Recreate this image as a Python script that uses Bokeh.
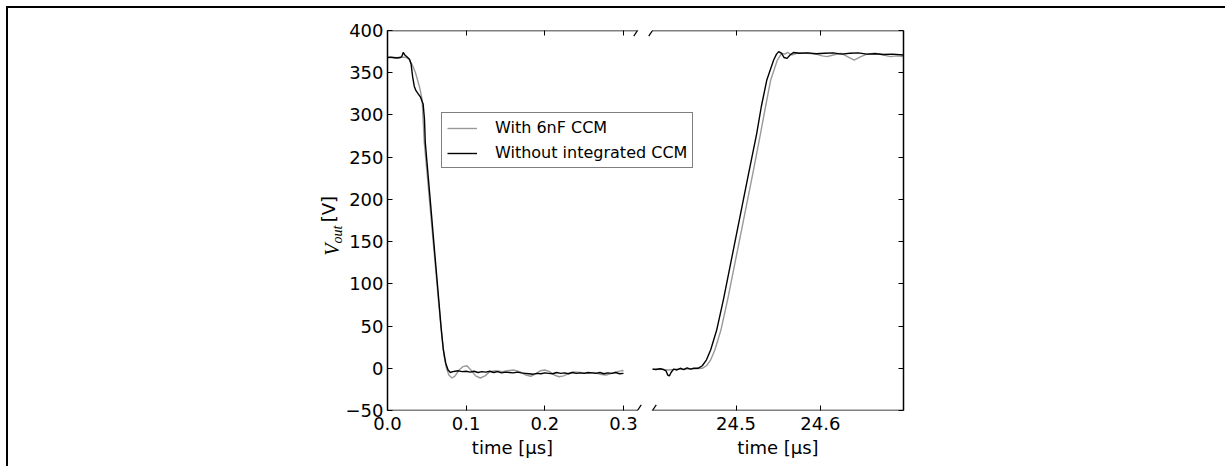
import math
from bokeh.plotting import figure
from bokeh.models import (Range1d, LinearAxis, FixedTicker, Legend, LegendItem, Arrow,
                          CustomJSTickFormatter)
from bokeh.embed import file_html
from bokeh.resources import INLINE

W, H = 1225, 466

# ---------------- data ----------------
series_names = ["With 6nF CCM", "Without integrated CCM"]
series_colors = ["#999999", "#000000"]

y_lim = (-50, 400)
y_ticks = [-50, 0, 50, 100, 150, 200, 250, 300, 350, 400]
left_xlim = (0.0, 0.3178)
right_xlim = (24.401, 24.6985)
left_x_ticks = [0.0, 0.1, 0.2, 0.3]
right_x_ticks = [24.5, 24.6]
x_title = "time [\u03bcs]"

# falling edge, with 6nF CCM (grey)
fall_t_with = [0.000, 0.004, 0.008, 0.012, 0.016, 0.020, 0.024, 0.027, 0.030, 0.033, 0.0356,
               0.038, 0.041, 0.044, 0.0467, 0.050, 0.055, 0.060, 0.065, 0.069, 0.072, 0.075,
               0.078, 0.082, 0.086, 0.091, 0.096, 0.101, 0.106, 0.112, 0.118, 0.124, 0.130,
               0.138, 0.146, 0.152, 0.160, 0.168, 0.176, 0.182, 0.188, 0.194, 0.200, 0.206,
               0.212, 0.218, 0.224, 0.230, 0.237, 0.245, 0.255, 0.262, 0.270, 0.278, 0.285,
               0.292, 0.298, 0.300]
fall_v_with = [368, 368, 367.5, 368, 368, 368.5, 368, 366, 362, 356, 350,
               342, 332, 318, 268, 234, 182, 130, 78, 38, 14, 0,
               -8, -11.5, -9, -2, 2, 3, -2, -9, -11.5, -9, -4,
               -3, -4, -3, -2, -4, -8, -9.5, -7, -3, -2, -4,
               -8, -10, -9, -6, -4.3, -5, -6, -5, -7, -8, -6,
               -4, -2.7, -3]

# falling edge, without integrated CCM (black)
fall_t_without = [0.000, 0.004, 0.008, 0.012, 0.016, 0.018, 0.020, 0.022, 0.025, 0.028, 0.030,
                  0.032, 0.034, 0.036, 0.0386, 0.042, 0.0453, 0.047, 0.048, 0.050, 0.055,
                  0.060, 0.065, 0.068, 0.071, 0.074, 0.077, 0.080, 0.083, 0.086, 0.090,
                  0.095, 0.100, 0.105, 0.110, 0.115, 0.120, 0.125, 0.130, 0.135, 0.140,
                  0.145, 0.150, 0.155, 0.160, 0.165, 0.170, 0.175, 0.180, 0.185, 0.190,
                  0.195, 0.200, 0.205, 0.210, 0.215, 0.220, 0.225, 0.230, 0.235, 0.240,
                  0.245, 0.250, 0.255, 0.260, 0.265, 0.270, 0.275, 0.280, 0.285, 0.290,
                  0.295, 0.300]
fall_v_without = [368, 368.5, 368, 367.5, 368, 369, 374, 371, 368.5, 366, 360,
                  345, 334, 329, 325.5, 321, 313, 295, 268, 246, 192,
                  137, 83, 50, 22, 6, -2, -5, -4, -3.5, -3,
                  -4, -3.5, -4.5, -3.5, -5, -4, -4.5, -3.5, -5, -4,
                  -5.5, -4.5, -5, -5.5, -4.5, -5.5, -6, -6.5, -7, -6,
                  -6.5, -5.5, -6, -6.5, -5, -6, -5.5, -6.5, -5, -6,
                  -5.5, -6, -5, -5.5, -6, -5, -6.5, -5.5, -6, -5,
                  -6.5, -6]

# rising edge, with 6nF CCM (grey)
rise_t_with = [24.401, 24.410, 24.420, 24.430, 24.440, 24.450, 24.460, 24.465, 24.470, 24.475,
               24.482, 24.490, 24.500, 24.510, 24.520, 24.529, 24.535, 24.541, 24.549, 24.554,
               24.558, 24.561, 24.566, 24.572, 24.585, 24.595, 24.602, 24.608, 24.615, 24.625,
               24.632, 24.640, 24.648, 24.655, 24.665, 24.675, 24.683, 24.690, 24.6985]
rise_v_with = [-1, -1, -2, -1, -1, -0.5, 0, 3, 10, 22,
               45, 81, 131, 181, 231, 278, 310, 341, 365, 373,
               372, 374, 371, 373, 373, 372, 370, 369, 371, 373,
               369, 365, 369, 372, 373, 371, 369, 370, 369]

# rising edge, without integrated CCM (black)
rise_t_without = [24.401, 24.405, 24.410, 24.414, 24.417, 24.419, 24.421, 24.423, 24.426, 24.430,
                  24.434, 24.438, 24.442, 24.446, 24.450, 24.455, 24.460, 24.465, 24.470, 24.477,
                  24.485, 24.495, 24.505, 24.515, 24.5245, 24.530, 24.5364, 24.5446, 24.548, 24.5506,
                  24.554, 24.557, 24.5605, 24.564, 24.568, 24.575, 24.585, 24.595, 24.605, 24.615,
                  24.625, 24.635, 24.645, 24.655, 24.665, 24.675, 24.685, 24.6985]
rise_v_without = [-1, -1.5, -0.5, -1.5, -3, -8, -9, -5, -1, -2,
                  0, -1.5, 0.5, -1, 0, 0, 3, 10, 22, 45,
                  81, 131, 181, 231, 278, 310, 341, 365, 372, 375,
                  373, 368, 367, 371, 374, 373, 373.5, 372.5, 373, 373.5,
                  372, 373, 373.5, 372, 372.5, 371.5, 372, 371]

# ---------------- geometry (canvas pixels) ----------------
FRAME_LEFT, FRAME_TOP = 387, 30
PANEL_L_W, GAP, PANEL_R_W = 250, 15, 251
FRAME_W = PANEL_L_W + GAP + PANEL_R_W
FRAME_H = 380
FRAME_BOTTOM = FRAME_TOP + FRAME_H
R_PANEL_LEFT = FRAME_LEFT + PANEL_L_W + GAP
FONT = "DejaVu Sans"
SERIF = "Liberation Serif"
TICK_STANDOFF = 6
TITLE_STANDOFF = 4

# each panel's range stretched over the full frame so that it occupies only its own part
l_span = (left_xlim[1] - left_xlim[0]) * FRAME_W / PANEL_L_W
r_span = (right_xlim[1] - right_xlim[0]) * FRAME_W / PANEL_R_W
px_per_x = PANEL_L_W / (left_xlim[1] - left_xlim[0])
px_per_y = FRAME_H / (y_lim[1] - y_lim[0])
r_px = PANEL_R_W / (right_xlim[1] - right_xlim[0])


def right_to_default(t):
    """position of a right-panel time value expressed in the left (default) range units"""
    return left_xlim[0] + (R_PANEL_LEFT - FRAME_LEFT + (t - right_xlim[0]) * r_px) / px_per_x


def yd(cy):
    return y_lim[0] + (FRAME_BOTTOM - cy) / px_per_y


page_lines = ("linear-gradient(#000, #000) 6px 6px / calc(100% - 6px) 2px no-repeat, "
              "linear-gradient(#000, #000) 6px 6px / 2px calc(100% - 6px) no-repeat")

p = figure(width=W, height=H,
           x_range=Range1d(left_xlim[0], left_xlim[0] + l_span),
           y_range=Range1d(*y_lim),
           x_axis_location=None, y_axis_location=None,
           toolbar_location=None, output_backend="svg",
           min_border_left=FRAME_LEFT, min_border_right=W - FRAME_LEFT - FRAME_W,
           min_border_top=FRAME_TOP, min_border_bottom=H - FRAME_BOTTOM,
           styles={"background": page_lines})
p.extra_x_ranges = {"right": Range1d(right_xlim[1] - r_span, right_xlim[1])}
p.grid.visible = False
p.outline_line_color = None
p.background_fill_color = "white"
p.border_fill_color = None


def styled_axis(ticks, labels, line, range_name="default", fmt=None, tick_marks=True,
                standoff=TICK_STANDOFF):
    kw = {} if range_name == "default" else {"x_range_name": range_name}
    ax = LinearAxis(ticker=FixedTicker(ticks=ticks), **kw)
    if line:
        ax.axis_line_color = "black"
        ax.axis_line_width = 1.5
    else:
        ax.axis_line_color = None
    ax.major_tick_in = 5 if tick_marks else 0
    ax.major_tick_out = 0
    ax.major_tick_line_color = "black" if tick_marks else None
    ax.major_tick_line_width = 1
    ax.minor_tick_line_color = None
    ax.minor_tick_in = 0
    ax.minor_tick_out = 0
    ax.major_label_text_font = FONT
    ax.major_label_text_color = "black"
    if labels:
        ax.major_label_text_font_size = "18px"
        ax.major_label_standoff = standoff
        if fmt is not None:
            ax.formatter = fmt
    else:
        ax.major_label_text_font_size = "0px"
        ax.major_label_standoff = 0
        ax.formatter = CustomJSTickFormatter(code="return ''")
    return ax


yfmt = CustomJSTickFormatter(code="return tick < 0 ? '\u2212' + Math.abs(tick) : String(tick)")

# bottom tick labels of both panels on one axis (right-panel values mapped into the left range)
bottom_pos = left_x_ticks + [right_to_default(t) for t in right_x_ticks]
bottom_lab = [f"{t:.1f}" for t in left_x_ticks + right_x_ticks]
xfmt = CustomJSTickFormatter(args=dict(pos=bottom_pos, lab=bottom_lab), code="""
for (let i = 0; i < pos.length; i++) { if (Math.abs(tick - pos[i]) < 1e-6) return lab[i]; }
return '';
""")
title_pos = [(left_xlim[0] + left_xlim[1]) / 2, right_to_default((right_xlim[0] + right_xlim[1]) / 2)]
tfmt = CustomJSTickFormatter(args=dict(title=x_title), code="return title;")

p.add_layout(styled_axis(y_ticks, True, True, fmt=yfmt, standoff=4), "left")
p.add_layout(styled_axis(y_ticks, False, True), "right")
# bottom: tick marks of both panels (zero height), all tick labels, titles
p.add_layout(styled_axis(right_x_ticks, False, False, "right"), "below")
p.add_layout(styled_axis(left_x_ticks, False, False), "below")
p.add_layout(styled_axis(bottom_pos, True, False, fmt=xfmt, tick_marks=False), "below")
p.add_layout(styled_axis(title_pos, True, False, fmt=tfmt, tick_marks=False,
                         standoff=TITLE_STANDOFF), "below")
# top: ticks only
p.add_layout(styled_axis(left_x_ticks, False, False), "above")
p.add_layout(styled_axis(right_x_ticks, False, False, "right"), "above")

# y title "V_out [V]" built from three rotated pieces, stacked left of the tick labels
y_title_parts = [  # text, centre (canvas y), font, style, size, standoff
    ("out", 225.0, SERIF, "italic", "14px", 5),
    ("V", 243.0, SERIF, "italic", "20px", -12),
    ("[V]", 195.5, FONT, "normal", "18px", -22),
]
for txt, cy, font, style, size, so in y_title_parts:
    ax = LinearAxis(ticker=FixedTicker(ticks=[yd(cy)]),
                    formatter=CustomJSTickFormatter(args=dict(t=txt), code="return t;"))
    ax.axis_line_color = None
    ax.major_tick_line_color = None
    ax.major_tick_in = 0
    ax.major_tick_out = 0
    ax.minor_tick_line_color = None
    ax.minor_tick_in = 0
    ax.minor_tick_out = 0
    ax.major_label_orientation = math.pi / 2
    ax.major_label_text_font = font
    ax.major_label_text_font_style = style
    ax.major_label_text_font_size = size
    ax.major_label_text_color = "black"
    ax.major_label_standoff = so
    p.add_layout(ax, "left")

# top / bottom spines of each panel (open on the inner side)
for rng, lim in (("default", left_xlim), ("right", right_xlim)):
    for yv in y_lim:
        p.add_layout(Arrow(start=None, end=None, x_start=lim[0], x_end=lim[1],
                           y_start=yv, y_end=yv, x_range_name=rng,
                           line_color="black", line_width=1.5))

# break marks
d = 0.015
ddy = d * (y_lim[1] - y_lim[0])
for rng, xe, wspan in (("default", left_xlim[1], left_xlim[1] - left_xlim[0]),
                       ("right", right_xlim[0], right_xlim[1] - right_xlim[0])):
    ddx = d * wspan
    for yv in y_lim:
        p.add_layout(Arrow(start=None, end=None, x_start=xe - ddx, x_end=xe + ddx,
                           y_start=yv - ddy, y_end=yv + ddy, x_range_name=rng,
                           line_color="black", line_width=1.2))

# series
g1 = p.line(fall_t_with, fall_v_with, line_color=series_colors[0], line_width=1.4)
b1 = p.line(fall_t_without, fall_v_without, line_color=series_colors[1], line_width=1.4)
p.line(rise_t_with, rise_v_with, line_color=series_colors[0], line_width=1.4, x_range_name="right")
p.line(rise_t_without, rise_v_without, line_color=series_colors[1], line_width=1.4, x_range_name="right")

legend = Legend(items=[LegendItem(label=series_names[0], renderers=[g1]),
                       LegendItem(label=series_names[1], renderers=[b1])],
                location=(54, 242), margin=0, padding=5, spacing=6,
                glyph_width=30, glyph_height=18, label_height=18, label_standoff=18,
                label_text_font=FONT, label_text_font_size="16px", label_text_color="black",
                border_line_color="black", border_line_width=1,
                background_fill_color="white", background_fill_alpha=1)
p.add_layout(legend)

open("out.html", "w").write(file_html(p, INLINE))
